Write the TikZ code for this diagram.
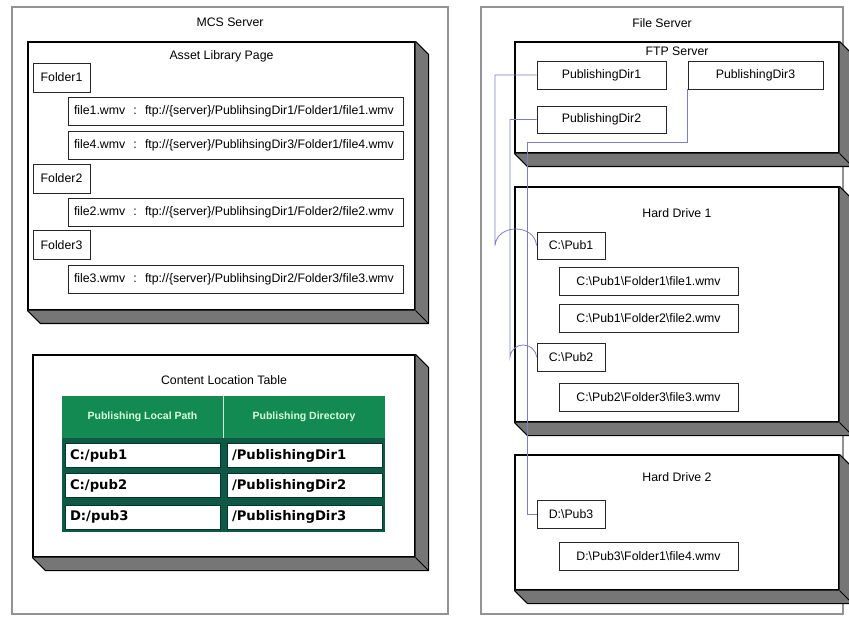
\documentclass[tikz,border=0pt]{standalone}
\usepackage{fontspec}
\setmainfont{Liberation Sans}
\newfontfamily\cellfont{DejaVu Sans}
\usepackage{tikz}
\usetikzlibrary{positioning}

\definecolor{hdrgreen}{RGB}{18,138,82}
\definecolor{bodygreen}{RGB}{14,88,70}
\definecolor{linkblue}{RGB}{125,125,195}
\definecolor{slabgrey}{RGB}{118,118,118}

\newcommand{\winsep}{\textbackslash}
\newcommand{\extrude}[1]{%
  \fill[slabgrey] (#1.north east) -- ++(13,13) |- ([shift={(13,13)}]#1.south west) -- (#1.south west) -- (#1.south east) -- cycle;
  \draw[line width=1.1pt] (#1.north east) -- ++(13,13) |- ([shift={(13,13)}]#1.south west) -- (#1.south west);
  \draw[line width=0.8pt] (#1.south east) -- ++(13,13);}

\begin{document}
\begin{tikzpicture}[x=1pt, y=-1pt, every node/.style={font=\fontsize{12.3}{14}\selectfont},
    server/.style={draw=gray!85, line width=1.2pt, inner sep=0pt},
    slab/.style={draw, line width=1.1pt, fill=white, inner sep=0pt},
    itembox/.style={draw=black!85, line width=0.9pt, fill=white, inner sep=0pt, minimum height=28pt},
    filebox/.style={itembox, text width=323pt, inner xsep=6pt, align=left},
    hdrcell/.style={fill=hdrgreen, inner sep=0pt, minimum height=42pt, text=white!85!green, font=\bfseries\fontsize{10.5}{12}\selectfont},
    cell/.style={draw=bodygreen!60!black, fill=white, inner xsep=5pt, inner ysep=0pt, text width=145pt, align=left, minimum height=24pt, font=\cellfont\bfseries\fontsize{13.2}{15}\selectfont},
    link/.style={draw=linkblue, line width=0.8pt}]
    \useasboundingbox (0,0) rectangle (849,620);

    % the two servers
    \node[server, minimum width=436pt, minimum height=607pt] (mcs) at (230,310.5) {};
    \node[below=8.4pt of mcs.north] (mcstitle) {MCS Server};
    \node[server, minimum width=362pt, minimum height=607pt] (fs) at (662,310.5) {};
    \node[below=8.4pt of fs.north] (fstitle) {File Server};

    % slabs
    \node[slab, minimum width=387pt, minimum height=268pt] (asset) at (221.5,176) {};
    \extrude{asset}
    \node[below=5.4pt of asset.north] (assettitle) {Asset Library Page};
    \node[slab, minimum width=382pt, minimum height=202pt] (content) at (224,456) {};
    \extrude{content}
    \node[below=17.4pt of content.north] (contenttitle) {Content Location Table};
    \node[slab, minimum width=324pt, minimum height=111pt] (ftp) at (677,97.5) {};
    \extrude{ftp}
    \node[below=2.4pt of ftp.north] (ftptitle) {FTP Server};
    \node[slab, minimum width=324pt, minimum height=235pt] (hd1) at (677,304.5) {};
    \extrude{hd1}
    \node[below=18.4pt of hd1.north] (hd1title) {Hard Drive 1};
    \node[slab, minimum width=324pt, minimum height=135pt] (hd2) at (677,522.5) {};
    \extrude{hd2}
    \node[below=14.4pt of hd2.north] (hd2title) {Hard Drive 2};

    % asset library page
    \node[itembox, minimum width=57pt, minimum height=29pt] (folder1) at (61.5,77.5) {Folder1};
    \node[filebox] (file1) at (235.5,111) {file1.wmv~~:~~ftp://\{server\}/PublihsingDir1/Folder1/file1.wmv};
    \node[filebox] (file4) at (235.5,145) {file4.wmv~~:~~ftp://\{server\}/PublihsingDir3/Folder1/file4.wmv};
    \node[itembox, minimum width=57pt, minimum height=29pt] (folder2) at (61.5,178.5) {Folder2};
    \node[filebox] (file2) at (235.5,212) {file2.wmv~~:~~ftp://\{server\}/PublihsingDir1/Folder2/file2.wmv};
    \node[itembox, minimum width=57pt, minimum height=29pt] (folder3) at (61.5,245) {Folder3};
    \node[filebox] (file3) at (235.5,279.5) {file3.wmv~~:~~ftp://\{server\}/PublihsingDir2/Folder3/file3.wmv};

    % content location table
    \node[fill=bodygreen, inner sep=0pt, minimum width=323pt, minimum height=94pt] (tbody) at (223.5,485) {};
    \node[hdrcell, minimum width=161pt] (hdrpath) at (142.5,417) {Publishing Local Path};
    \node[hdrcell, minimum width=162pt] (hdrdir) at (304,417) {Publishing Directory};
    \draw[white!80!hdrgreen, line width=1.2pt] (hdrpath.north east) -- (hdrpath.south east);
    \node[cell] (lp1) at (142.5,455.5) {C:/pub1};
    \node[cell] (pd1) at (304.5,455.5) {/PublishingDir1};
    \node[cell] (lp2) at (142.5,485.5) {C:/pub2};
    \node[cell] (pd2) at (304.5,485.5) {/PublishingDir2};
    \node[cell] (lp3) at (142.5,517) {D:/pub3};
    \node[cell] (pd3) at (304.5,517) {/PublishingDir3};

    % ftp server
    \node[itembox, minimum width=129pt] (ftpdir1) at (601.5,75) {PublishingDir1};
    \node[itembox, minimum width=135pt] (ftpdir3) at (755.5,75) {PublishingDir3};
    \node[itembox, minimum width=129pt, minimum height=27pt] (ftpdir2) at (601.5,119.5) {PublishingDir2};

    % hard drives
    \node[itembox, minimum width=68pt, minimum height=27pt] (pub1) at (571,245.5) {C:\winsep Pub1};
    \node[itembox, minimum width=179pt] (p1f1) at (648.5,281) {C:\winsep Pub1\winsep Folder1\winsep file1.wmv};
    \node[itembox, minimum width=179pt] (p1f2) at (648.5,318) {C:\winsep Pub1\winsep Folder2\winsep file2.wmv};
    \node[itembox, minimum width=68pt] (pub2) at (571,357) {C:\winsep Pub2};
    \node[itembox, minimum width=179pt] (p2f3) at (648.5,397) {C:\winsep Pub2\winsep Folder3\winsep file3.wmv};
    \node[itembox, minimum width=68pt] (pub3) at (571,514) {D:\winsep Pub3};
    \node[itembox, minimum width=179pt] (p3f4) at (648.5,556) {D:\winsep Pub3\winsep Folder1\winsep file4.wmv};

    % links from the ftp folders to the drives
    \coordinate (railA) at (495,0);
    \coordinate (railB) at (510,0);
    \coordinate (railC) at (527,0);
    \draw[link] (ftpdir1.west) -| (railA |- pub1.west) .. controls +(2,-22) and +(-2,-22) .. (pub1.west);
    \draw[link] (ftpdir2.west) -| (railB |- pub2.west) .. controls +(2,-16) and +(-2,-16) .. (pub2.west);
    \draw[link] (ftpdir3.south west) -- ++(0,53) -| (railC |- pub3.west) -- (pub3.west);
\end{tikzpicture}
\end{document}
